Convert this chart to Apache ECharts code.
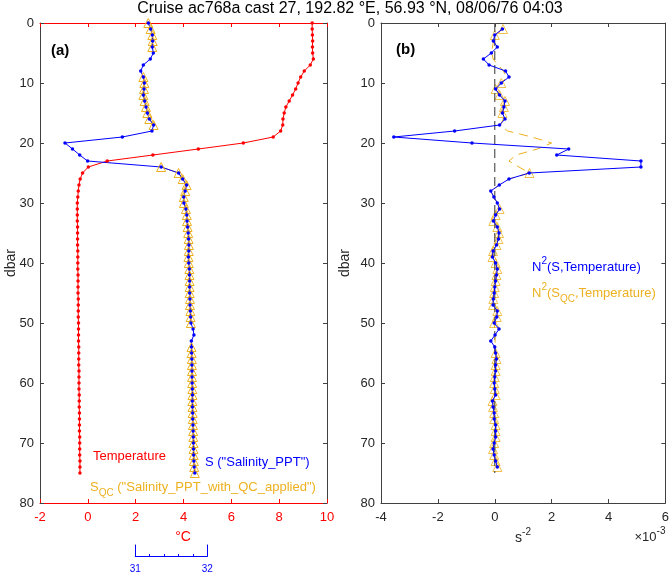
<!DOCTYPE html>
<html>
<head>
<meta charset="utf-8">
<script src="https://cdn.jsdelivr.net/npm/echarts@6/dist/echarts.min.js"></script>
<style>
  html, body { margin: 0; padding: 0; background: #fff; }
  #chart { width: 672px; height: 574px; }
</style>
</head>
<body>
<div id="chart"></div>
<script>
// pressure levels (dbar)
const depth = [0, 1, 2, 3, 4, 5, 6, 7, 8, 9, 10, 11, 12, 13, 14, 15, 16, 17, 18, 19,
  20, 21, 22, 23, 24, 25, 26, 27, 28, 29, 30, 31, 32, 33, 34, 35, 36, 37, 38, 39,
  40, 41, 42, 43, 44, 45, 46, 47, 48, 49, 50, 51, 52, 53, 54, 55, 56, 57, 58, 59,
  60, 61, 62, 63, 64, 65, 66, 67, 68, 69, 70, 71, 72, 73, 74, 75]

const temperature = [9.38, 9.38, 9.39, 9.40, 9.39, 9.40, 9.43, 9.30, 9.05, 8.90,
  8.79, 8.69, 8.56, 8.42, 8.28, 8.21, 8.16, 8.15, 8.06, 7.75,
  6.50, 4.62, 2.72, 0.81, 0.02, -0.22, -0.32, -0.37, -0.40, -0.42,
  -0.44, -0.44, -0.44, -0.44, -0.43, -0.43, -0.43, -0.43, -0.42, -0.42,
  -0.42, -0.42, -0.41, -0.41, -0.41, -0.41, -0.40, -0.40, -0.40, -0.40,
  -0.39, -0.39, -0.39, -0.39, -0.38, -0.38, -0.38, -0.38, -0.37, -0.37,
  -0.37, -0.37, -0.36, -0.36, -0.36, -0.35, -0.35, -0.35, -0.35, -0.34,
  -0.34, -0.34, -0.34, -0.33, -0.33, -0.33]

const salinity = [31.176, 31.209, 31.232, 31.237, 31.232, 31.246, 31.204, 31.107, 31.070, 31.107,
  31.121, 31.116, 31.107, 31.125, 31.144, 31.163, 31.190, 31.250, 31.227, 30.814,
  30.015, 30.120, 30.220, 30.330, 31.355, 31.598, 31.655, 31.710, 31.690, 31.670,
  31.672, 31.700, 31.712, 31.716, 31.724, 31.732, 31.738, 31.742, 31.740, 31.735,
  31.740, 31.748, 31.750, 31.752, 31.752, 31.753, 31.756, 31.757, 31.762, 31.766,
  31.770, 31.800, 31.812, 31.776, 31.778, 31.780, 31.783, 31.784, 31.785, 31.786,
  31.787, 31.790, 31.792, 31.790, 31.792, 31.794, 31.796, 31.799, 31.801, 31.803,
  31.805, 31.806, 31.808, 31.811, 31.816, 31.824]

// salinity after QC (null = rejected)
const salinityQC = [31.176, 31.209, 31.232, 31.237, 31.232, null, null, null, null, 31.107,
  31.121, 31.116, 31.107, 31.125, 31.144, 31.163, 31.190, 31.250, null, null,
  null, null, null, null, 31.355, 31.598, 31.655, 31.710, 31.690, 31.670,
  31.672, 31.700, 31.712, 31.716, 31.724, 31.732, 31.738, 31.742, 31.740, 31.735,
  31.740, 31.748, 31.750, 31.752, 31.752, 31.753, 31.756, 31.757, 31.762, 31.766,
  31.770, null, null, null, 31.778, 31.780, 31.783, 31.784, 31.785, 31.786,
  31.787, 31.790, 31.792, 31.790, 31.792, 31.794, 31.796, 31.799, 31.801, 31.803,
  31.805, 31.806, 31.808, 31.811, 31.816, 31.824]

// N^2 levels and values, in units of 1e-3 s^-2
const n2Depth = [1, 2, 3, 4, 5, 6, 7, 8, 9, 10, 11, 12, 13, 14, 15, 16, 17, 18, 19, 20,
  21, 22, 23, 24, 25, 26, 27, 28, 29, 30, 31, 32, 33, 34, 35, 36, 37, 38, 39, 40,
  41, 42, 43, 44, 45, 46, 47, 48, 49, 50, 51, 52, 53, 54, 55, 56, 57, 58, 59, 60,
  61, 62, 63, 64, 65, 66, 67, 68, 69, 70, 71, 72, 73, 74]

const n2S = [0.27, 0.00, -0.05, 0.09, -0.12, -0.40, -0.20, 0.38, 0.50, 0.23,
  0.03, 0.17, 0.36, 0.32, 0.27, 0.36, 0.17, -1.41, -3.55, -0.80,
  2.60, 2.18, 5.14, 5.14, 1.21, 0.50, 0.16, -0.14, -0.03, 0.09,
  0.17, 0.03, -0.05, 0.09, 0.15, 0.13, 0.06, -0.06, -0.08, 0.03,
  0.09, 0.06, 0.03, 0.00, -0.02, -0.05, -0.06, 0.09, 0.07, -0.02,
  0.15, 0.01, -0.14, 0.00, 0.03, 0.06, 0.03, 0.03, 0.00, -0.02,
  0.00, 0.03, -0.08, -0.06, -0.02, -0.02, 0.03, 0.03, 0.03, -0.02,
  -0.06, -0.02, 0.03, 0.09]

const n2SQC = [0.29, 0.00, -0.04, -0.08, -0.10, -0.06, 0.12, 0.30, 0.42, 0.23,
  0.03, 0.17, 0.36, 0.32, 0.27, 0.30, 0.20, 0.45, 1.30, 2.00,
  1.50, 0.75, 0.50, 0.85, 1.22, 0.50, 0.16, -0.14, -0.03, 0.09,
  0.17, 0.03, -0.05, 0.09, 0.15, 0.13, 0.06, -0.06, -0.08, 0.03,
  0.09, 0.06, 0.03, 0.00, -0.02, -0.05, -0.06, 0.09, 0.07, -0.02,
  0.00, 0.00, 0.01, 0.02, 0.03, 0.06, 0.03, 0.03, 0.00, -0.02,
  0.00, 0.03, -0.08, -0.06, -0.02, -0.02, 0.03, 0.03, 0.03, -0.02,
  -0.06, -0.02, 0.03, 0.09]

// levels where N^2(S_QC) has a marker
const n2QCMarkDepths = [1, 2, 10, 11, 12, 13, 14, 15, 25,
  31, 32, 33, 34, 35, 36, 37, 38, 39, 40, 41, 42, 43, 44, 45, 46, 47, 48, 49, 50,
  55, 56, 57, 58, 59, 60, 61, 62, 63, 64, 65, 66, 67, 68, 69, 70, 71, 72, 73, 74]

const zeroLineDepth = [0, 75]
const salScaleLabels = [31, 32]

const RED = '#ff0000', BLUE = '#0000ff', ORANGE = '#edb120', AX = '#404040', TXT = '#262626'
const FONT = 'Liberation Sans'

const pairs = (xs, ys) => xs.map((x, i) => [x, ys[i]])

const chart = echarts.init(document.getElementById('chart'), null, { renderer: 'canvas' })

function yAx(grid, pos, withLabels, name, gap) {
  return {
    type: 'value', gridIndex: grid, position: pos, inverse: true, min: 0, max: 80, interval: 10,
    axisLine: { show: true, onZero: false, lineStyle: { color: AX, width: 1 } },
    axisTick: { show: true, inside: true, length: 4, lineStyle: { color: AX } },
    axisLabel: { show: withLabels, color: TXT, fontSize: 13, fontFamily: FONT, margin: 6 },
    splitLine: { show: false },
    name: name || '', nameLocation: 'middle', nameGap: gap || 20, nameMoveOverlap: false,
    nameTextStyle: { color: TXT, fontSize: 14, fontFamily: FONT }
  }
}
function xAx(grid, pos, min, max, color, withLabels) {
  return {
    type: 'value', gridIndex: grid, position: pos, min: min, max: max, interval: 2,
    axisLine: { show: true, onZero: false, lineStyle: { color: color, width: 1 } },
    axisTick: { show: true, inside: true, length: 4, lineStyle: { color: color } },
    axisLabel: { show: withLabels, color: color === AX ? TXT : color, fontSize: 13, fontFamily: FONT, margin: 8 },
    splitLine: { show: false }
  }
}

const option = {
  animation: false,
  backgroundColor: '#fff',
  grid: [
    { left: 40, top: 23, width: 287, height: 480 },
    { left: 381, top: 23, width: 288, height: 480 },
    { left: 135.3, top: 545, width: 72, height: 12 }
  ],
  xAxis: [
    xAx(0, 'bottom', -2, 10, RED, true),
    xAx(0, 'top', -2, 10, RED, false),
    // hidden salinity scale: 31 -> 2 degC, 32 -> 5 degC
    { type: 'value', gridIndex: 0, min: 31 - 4 / 3, max: 31 + 8 / 3, show: false },
    xAx(1, 'bottom', -4, 6, AX, true),
    xAx(1, 'top', -4, 6, AX, false),
    {
      type: 'value', gridIndex: 2, position: 'bottom', min: 31, max: 32, interval: 0.2,
      axisLine: { show: true, onZero: false, lineStyle: { color: BLUE, width: 1 } },
      axisTick: { show: true, inside: true, length: 2, lineStyle: { color: BLUE } },
      axisLabel: {
        color: BLUE, fontSize: 10, fontFamily: FONT, margin: 8,
        formatter: v => salScaleLabels.some(s => Math.abs(s - v) < 1e-6) ? String(Math.round(v)) : ''
      },
      splitLine: { show: false }
    }
  ],
  yAxis: [
    yAx(0, 'left', true, 'dbar', 22),
    yAx(0, 'right', false),
    yAx(1, 'left', true, 'dbar', 29),
    yAx(1, 'right', false),
    { type: 'value', gridIndex: 2, position: 'left', min: 0, max: 1,
      axisLine: { show: true, onZero: false, lineStyle: { color: BLUE } },
      axisTick: { show: false }, axisLabel: { show: false }, splitLine: { show: false } },
    { type: 'value', gridIndex: 2, position: 'right', min: 0, max: 1,
      axisLine: { show: true, onZero: false, lineStyle: { color: BLUE } },
      axisTick: { show: false }, axisLabel: { show: false }, splitLine: { show: false } }
  ],
  series: [
    {
      name: 'Temperature', type: 'line', xAxisIndex: 0, yAxisIndex: 0,
      data: pairs(temperature, depth),
      symbol: 'circle', symbolSize: 3.5,
      lineStyle: { color: RED, width: 1 }, itemStyle: { color: RED }
    },
    {
      name: 'S_QC', type: 'line', xAxisIndex: 2, yAxisIndex: 0,
      data: pairs(salinityQC, depth),
      symbol: 'triangle', symbolSize: 9,
      lineStyle: { color: ORANGE, width: 1 },
      itemStyle: { color: 'rgba(0,0,0,0)', borderColor: ORANGE, borderWidth: 1 }
    },
    {
      name: 'S', type: 'line', xAxisIndex: 2, yAxisIndex: 0,
      data: pairs(salinity, depth),
      symbol: 'circle', symbolSize: 3.5,
      lineStyle: { color: BLUE, width: 1 }, itemStyle: { color: BLUE }
    },
    {
      name: 'zero', type: 'line', xAxisIndex: 3, yAxisIndex: 2,
      data: zeroLineDepth.map(d => [0, d]), symbol: 'none',
      lineStyle: { color: '#555', width: 1.2, type: [9, 5] }
    },
    {
      name: 'N2 QC line', type: 'line', xAxisIndex: 3, yAxisIndex: 2,
      data: pairs(n2SQC, n2Depth), symbol: 'none',
      lineStyle: { color: ORANGE, width: 1, type: [9, 6] }
    },
    {
      name: 'N2 QC marks', type: 'scatter', xAxisIndex: 3, yAxisIndex: 2,
      data: n2QCMarkDepths.map(d => [n2SQC[n2Depth.indexOf(d)], d]),
      symbol: 'triangle', symbolSize: 9,
      itemStyle: { color: 'rgba(0,0,0,0)', borderColor: ORANGE, borderWidth: 1 }
    },
    {
      name: 'N2 S', type: 'line', xAxisIndex: 3, yAxisIndex: 2,
      data: pairs(n2S, n2Depth),
      symbol: 'circle', symbolSize: 3.5,
      lineStyle: { color: BLUE, width: 1 }, itemStyle: { color: BLUE }
    }
  ],
  graphic: [
    { type: 'text', x: 350, y: 9, style: { text: 'Cruise ac768a cast 27, 192.82 \u00b0E, 56.93 \u00b0N, 08/06/76 04:03', fill: '#000', font: '16px ' + FONT, align: 'center', verticalAlign: 'middle' } },
    { type: 'text', x: 51, y: 51, style: { text: '(a)', fill: '#000', font: 'bold 15px ' + FONT, verticalAlign: 'middle' } },
    { type: 'text', x: 396, y: 50, style: { text: '(b)', fill: '#000', font: 'bold 15px ' + FONT, verticalAlign: 'middle' } },
    { type: 'text', x: 93, y: 456, style: { text: 'Temperature', fill: RED, font: '13px ' + FONT, verticalAlign: 'middle' } },
    { type: 'text', x: 205, y: 462, style: { text: 'S ("Salinity_PPT")', fill: BLUE, font: '13px ' + FONT, verticalAlign: 'middle' } },
    { type: 'text', x: 90, y: 487, style: {
      text: 'S{sub|QC} ("Salinity_PPT_with_QC_applied")', fill: ORANGE, font: '13px ' + FONT, verticalAlign: 'middle',
      rich: { sub: { fontSize: 10, fontFamily: FONT, fill: ORANGE, verticalAlign: 'bottom', lineHeight: 22 } } } },
    { type: 'text', x: 183, y: 537, style: { text: '\u00b0C', fill: RED, font: '14px ' + FONT, align: 'center', verticalAlign: 'middle' } },
    { type: 'text', x: 532, y: 267, style: {
      text: 'N{sup|2}(S,Temperature)', fill: BLUE, font: '13px ' + FONT, verticalAlign: 'middle',
      rich: { sup: { fontSize: 10, fontFamily: FONT, fill: BLUE, verticalAlign: 'top', lineHeight: 22 } } } },
    { type: 'text', x: 532, y: 293, style: {
      text: 'N{sup|2}(S{sub|QC},Temperature)', fill: ORANGE, font: '13px ' + FONT, verticalAlign: 'middle',
      rich: {
        sup: { fontSize: 10, fontFamily: FONT, fill: ORANGE, verticalAlign: 'top', lineHeight: 22 },
        sub: { fontSize: 10, fontFamily: FONT, fill: ORANGE, verticalAlign: 'bottom', lineHeight: 22 }
      } } },
    { type: 'text', x: 523, y: 538, style: {
      text: 's{sup|-2}', fill: TXT, font: '14px ' + FONT, align: 'center', verticalAlign: 'middle',
      rich: { sup: { fontSize: 10, fontFamily: FONT, fill: TXT, verticalAlign: 'top', lineHeight: 22 } } } },
    { type: 'text', x: 650, y: 537, style: {
      text: '\u00d710{sup|-3}', fill: TXT, font: '13px ' + FONT, align: 'center', verticalAlign: 'middle',
      rich: { sup: { fontSize: 10, fontFamily: FONT, fill: TXT, verticalAlign: 'top', lineHeight: 22 } } } }
  ]
}

chart.setOption(option)
</script>
</body>
</html>
